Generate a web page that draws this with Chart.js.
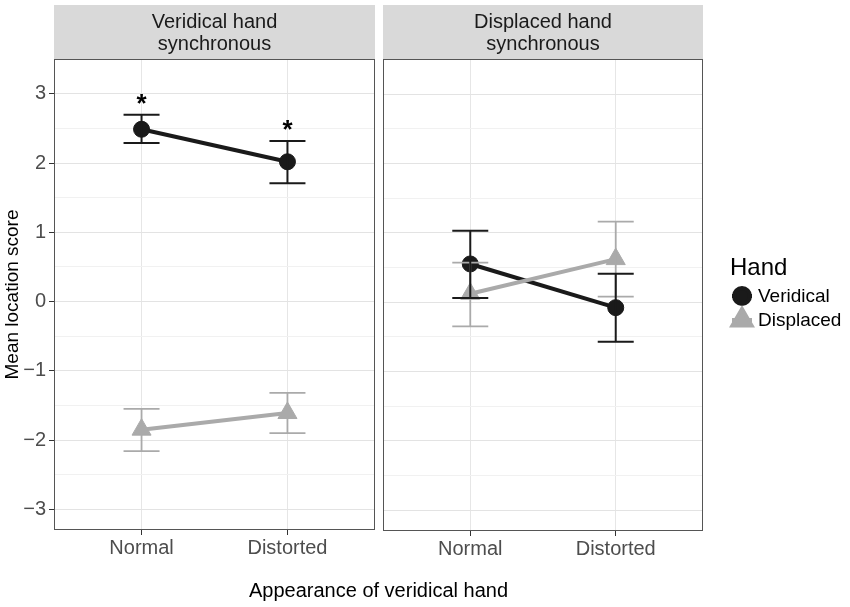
<!DOCTYPE html>
<html><head><meta charset="utf-8">
<script src="https://cdn.jsdelivr.net/npm/chart.js@4.4.0/dist/chart.umd.min.js"></script>
<style>
html,body{margin:0;padding:0;background:#fff;width:850px;height:607px;overflow:hidden;}
#c1{position:absolute;left:0;top:0;}
#c2{position:absolute;left:378px;top:0;}
#xt{position:absolute;left:0;width:757px;top:578px;line-height:24px;text-align:center;font-size:20px;font-family:"Liberation Sans",Arial,sans-serif;color:#000;}
</style></head><body>
<canvas id="c1" width="378" height="607"></canvas>
<canvas id="c2" width="472" height="607"></canvas>
<div id="xt">Appearance of veridical hand</div>
<script>
// ---- data ----
const categories = ['Normal', 'Distorted'];
const seriesNames = ['Veridical', 'Displaced'];
const legendTitle = 'Hand';
const yAxisTitle = 'Mean location score';
const leftPanelTitle = ['Veridical hand', 'synchronous'];
const rightPanelTitle = ['Displaced hand', 'synchronous'];
const yTickValues = [-3, -2, -1, 0, 1, 2, 3];

// left panel (Veridical hand synchronous)
const leftVeridical   = [2.49, 2.02];
const leftVeridicalLo = [2.29, 1.71];
const leftVeridicalHi = [2.70, 2.32];
const leftDisplaced   = [-1.85, -1.61];
const leftDisplacedLo = [-2.16, -1.90];
const leftDisplacedHi = [-1.55, -1.32];
const leftStars = ['*', '*'];

// right panel (Displaced hand synchronous)
const rightVeridical   = [0.55, -0.08];
const rightVeridicalLo = [0.06, -0.57];
const rightVeridicalHi = [1.03, 0.41];
const rightDisplaced   = [0.12, 0.62];
const rightDisplacedLo = [-0.35, 0.08];
const rightDisplacedHi = [0.57, 1.16];
const rightStars = ['', ''];

// ---- styling ----
const FONT = '"Liberation Sans", Arial, Helvetica, sans-serif';
const DARK = '#1a1a1a';
const GREY = '#aaaaaa';
const Y_MIN = -3.3, Y_MAX = 3.505;

function toPts(vals) { return vals.map((v, i) => ({x: i + 1, y: v})); }
function fmt(v) { return v < 0 ? '\u2212' + Math.abs(v) : String(v); }

function makeChart(canvasId, isLeft, title, ver, verLo, verHi, dis, disLo, disHi, stars, showLegend) {
  const facet = {
    id: 'facet' + canvasId,
    beforeDraw(chart) {
      const {ctx, chartArea: a} = chart;
      ctx.save();
      ctx.fillStyle = '#d9d9d9';
      ctx.fillRect(a.left, 5, a.right - a.left, a.top - 5);
      ctx.fillStyle = DARK;
      ctx.font = '20px ' + FONT;
      ctx.textAlign = 'center';
      ctx.textBaseline = 'alphabetic';
      const cx = (a.left + a.right) / 2;
      ctx.fillText(title[0], cx, 28);
      ctx.fillText(title[1], cx, 50);
      ctx.restore();
    },
    afterDatasetsDraw(chart) {
      const {ctx} = chart;
      const xs = chart.scales.x, ys = chart.scales.y;
      ctx.save();
      // draw displaced error bars first, then veridical
      [1, 0].forEach(di => {
        const ds = chart.data.datasets[di];
        ctx.strokeStyle = ds.borderColor;
        ctx.lineWidth = di === 0 ? 2 : 1.8;
        ds.errLo.forEach((lo, i) => {
          const hi = ds.errHi[i];
          const px = xs.getPixelForValue(i + 1);
          const pLo = ys.getPixelForValue(lo), pHi = ys.getPixelForValue(hi);
          ctx.beginPath();
          ctx.moveTo(px, pLo); ctx.lineTo(px, pHi);
          ctx.moveTo(px - 18, pLo); ctx.lineTo(px + 18, pLo);
          ctx.moveTo(px - 18, pHi); ctx.lineTo(px + 18, pHi);
          ctx.stroke();
        });
      });
      // significance stars
      ctx.fillStyle = '#000';
      ctx.font = 'bold 26px ' + FONT;
      ctx.textAlign = 'center';
      ctx.textBaseline = 'alphabetic';
      const vds = chart.data.datasets[0];
      stars.forEach((s, i) => {
        if (!s) return;
        ctx.fillText(s, xs.getPixelForValue(i + 1), ys.getPixelForValue(vds.errHi[i]) - 3);
      });
      ctx.restore();
    },
    afterDraw(chart) {
      const {ctx, chartArea: a} = chart;
      ctx.save();
      ctx.strokeStyle = '#555';
      ctx.lineWidth = 1;
      ctx.strokeRect(a.left + 0.5, a.top + 0.5, a.right - a.left - 1, a.bottom - a.top - 1);
      if (showLegend) {
        const lx = 352;
        ctx.fillStyle = '#000';
        ctx.font = '24px ' + FONT;
        ctx.textAlign = 'left';
        ctx.textBaseline = 'alphabetic';
        ctx.fillText(legendTitle, lx, 275);
        const rowsY = [296, 320];
        chart.data.datasets.forEach((ds, i) => {
          const y = rowsY[i];
          const mx = 364;
          ctx.strokeStyle = ds.borderColor;
          ctx.lineWidth = 4;
          ctx.beginPath(); ctx.moveTo(mx - 10, y); ctx.lineTo(mx + 10, y); ctx.stroke();
          ctx.fillStyle = ds.pointBackgroundColor;
          ctx.strokeStyle = ds.pointBorderColor;
          Chart.helpers.drawPoint(ctx, {pointStyle: ds.pointStyle, radius: ds.pointRadius, rotation: 0, borderWidth: 1}, mx, y);
          ctx.fillStyle = '#000';
          ctx.font = '19px ' + FONT;
          ctx.textBaseline = 'middle';
          ctx.fillText(ds.label, 380, y + 1);
          ctx.textBaseline = 'alphabetic';
        });
      }
      ctx.restore();
    }
  };

  const yTicksAll = [];
  for (let v = -3; v <= 3.001; v += 0.5) yTicksAll.push(Math.round(v * 10) / 10);

  return new Chart(document.getElementById(canvasId), {
    type: 'line',
    data: {
      datasets: [
        {
          label: seriesNames[0], data: toPts(ver), errLo: verLo, errHi: verHi,
          borderColor: DARK, backgroundColor: DARK, borderWidth: 4,
          pointStyle: 'circle', pointRadius: 8, pointBackgroundColor: DARK, pointBorderColor: DARK,
          pointBorderWidth: 1, order: 1, tension: 0
        },
        {
          label: seriesNames[1], data: toPts(dis), errLo: disLo, errHi: disHi,
          borderColor: GREY, backgroundColor: GREY, borderWidth: 4,
          pointStyle: 'triangle', pointRadius: 11, pointBackgroundColor: GREY, pointBorderColor: GREY,
          pointBorderWidth: 1, order: 0, tension: 0
        }
      ]
    },
    options: {
      responsive: false,
      animation: false,
      events: [],
      layout: {autoPadding: false, padding: {top: 59, left: 0, right: isLeft ? 3 : 147, bottom: 0}},
      plugins: {legend: {display: false}, tooltip: {enabled: false}},
      scales: {
        x: {
          type: 'linear', min: 0.4, max: 2.6, offset: false,
          afterBuildTicks(s) { s.ticks = categories.map((c, i) => ({value: i + 1})); },
          afterFit(s) { s.height = isLeft ? 77 : 76; s.paddingLeft = 0; s.paddingRight = 0; },
          ticks: {
            callback: v => categories[Math.round(v) - 1] || '',
            font: {family: FONT, size: 20}, color: '#4d4d4d', padding: 1, autoSkip: false, maxRotation: 0
          },
          grid: {color: '#e6e6e6', lineWidth: 1, tickColor: '#333', tickLength: 5, drawTicks: true},
          border: {display: false}
        },
        y: {
          type: 'linear', min: Y_MIN, max: Y_MAX,
          afterBuildTicks(s) { s.ticks = yTicksAll.map(v => ({value: v})); },
          afterFit(s) { s.width = isLeft ? 54 : 5; s.paddingTop = 0; s.paddingBottom = 0; },
          ticks: {
            display: isLeft,
            callback: v => (yTickValues.includes(v) ? fmt(v) : ''),
            font: {family: FONT, size: 20}, color: '#4d4d4d', padding: 3, autoSkip: false
          },
          grid: {
            color: c => (yTickValues.includes(c.tick.value) ? '#e3e3e3' : '#f1f1f1'),
            lineWidth: 1,
            tickColor: c => (yTickValues.includes(c.tick.value) ? '#333' : 'rgba(0,0,0,0)'),
            tickLength: 5,
            drawTicks: isLeft
          },
          border: {display: false},
          title: {
            display: isLeft, text: yAxisTitle, color: '#000',
            font: {family: FONT, size: 19}, padding: {top: 1, bottom: 0}
          }
        }
      }
    },
    plugins: [facet]
  });
}

makeChart('c1', true, leftPanelTitle, leftVeridical, leftVeridicalLo, leftVeridicalHi,
  leftDisplaced, leftDisplacedLo, leftDisplacedHi, leftStars, false);
makeChart('c2', false, rightPanelTitle, rightVeridical, rightVeridicalLo, rightVeridicalHi,
  rightDisplaced, rightDisplacedLo, rightDisplacedHi, rightStars, true);
</script>
</body></html>
